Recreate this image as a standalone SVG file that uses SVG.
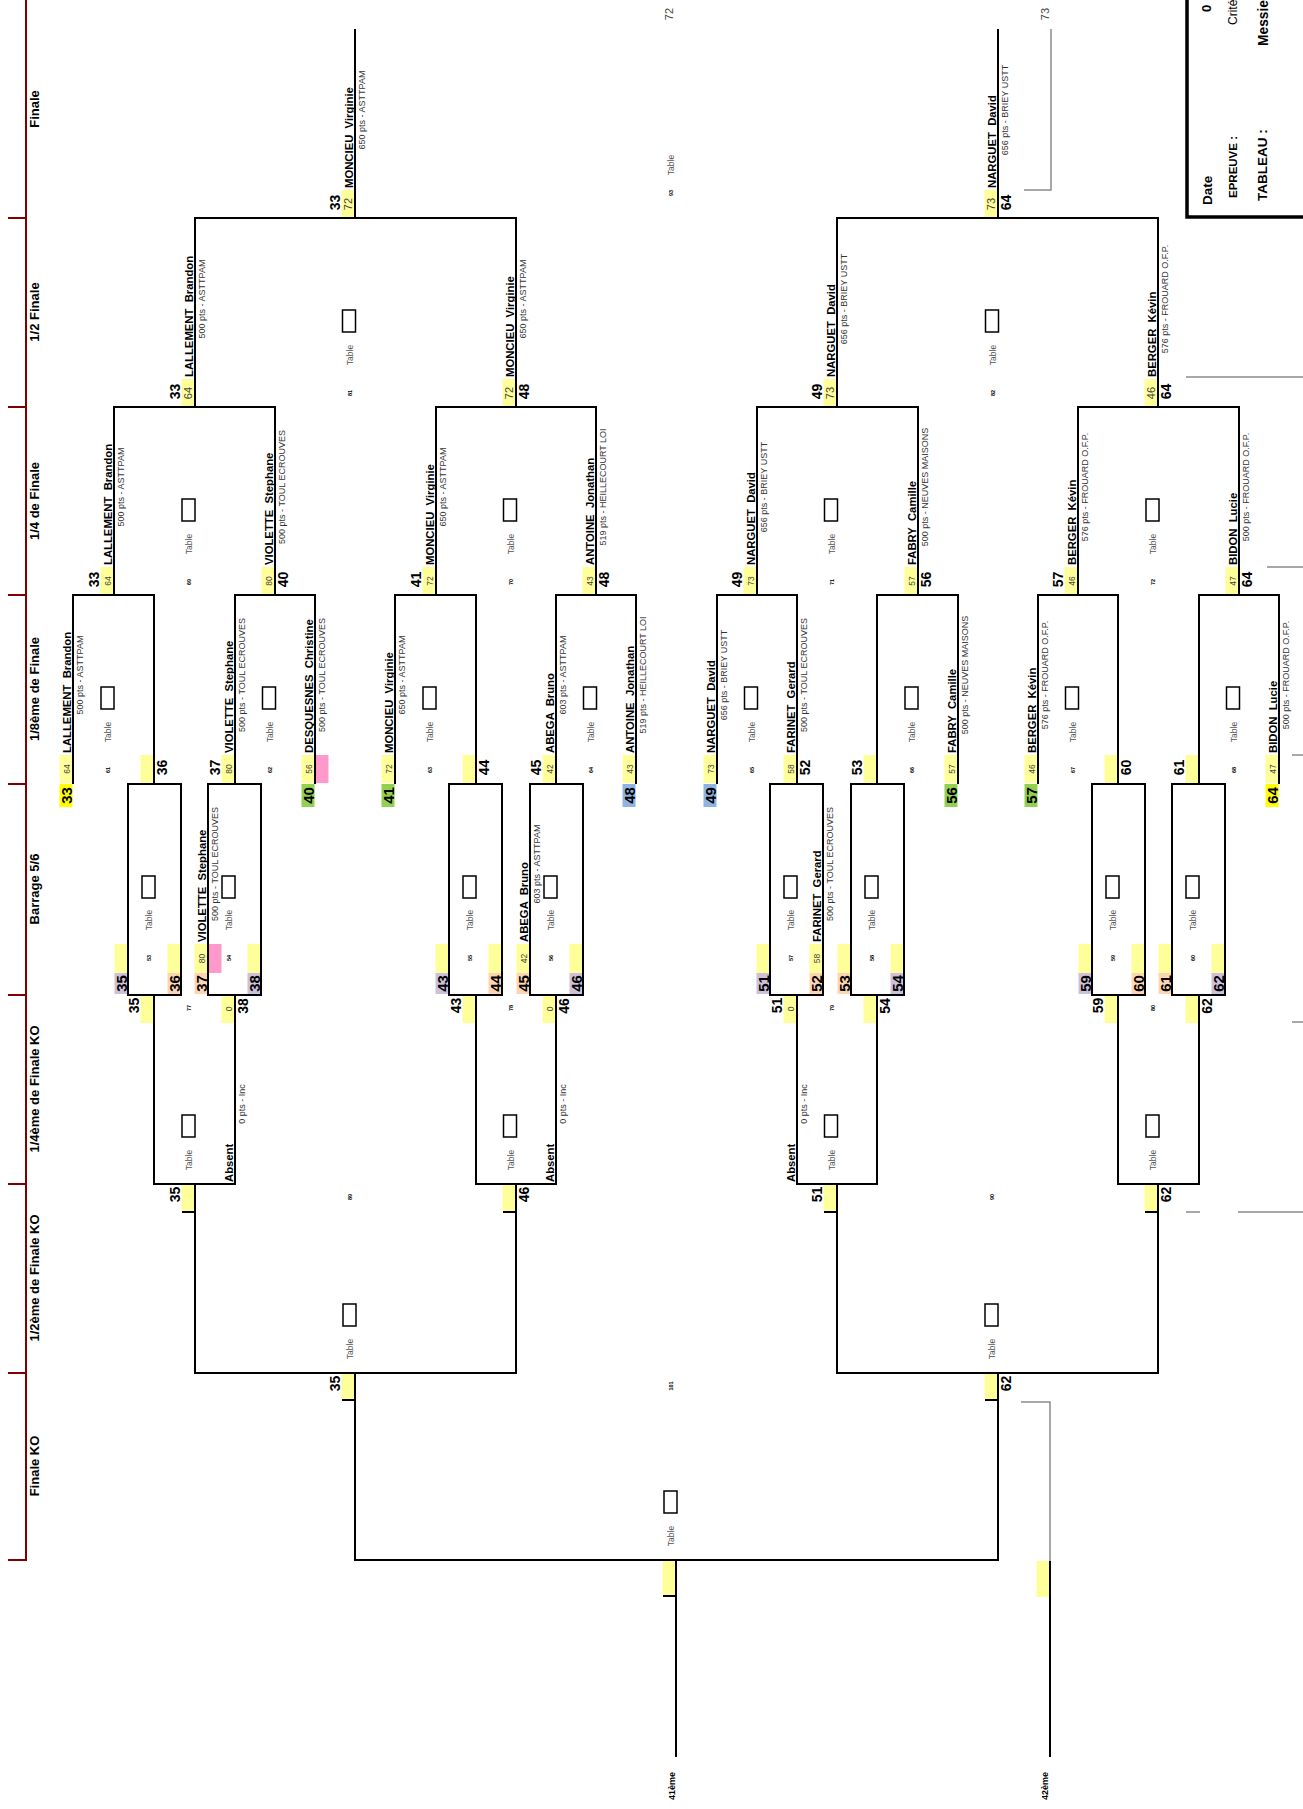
<svg xmlns="http://www.w3.org/2000/svg" width="1303" height="1809" viewBox="0 0 1303 1809">
<style>
text{font-family:"Liberation Sans",Arial,sans-serif;fill:#000}
.nm{font-size:11.3px;font-weight:bold;white-space:pre}
.pt{font-size:9px;fill:#333;text-anchor:middle}
.sd{font-size:8.5px;fill:#444;text-anchor:middle}
.sd2{font-size:11px;fill:#444;text-anchor:middle}
.bn{font-size:14px;font-weight:bold;text-anchor:middle}
.cn{font-size:15px;font-weight:bold;text-anchor:middle}
.tt{font-size:8.5px;fill:#555;text-anchor:middle}
.mn{font-size:5.5px;font-weight:bold;text-anchor:middle}
.rl{font-size:13px;font-weight:bold;text-anchor:middle}
.lb9{font-size:9px;font-weight:bold;text-anchor:middle}
.ln{fill:none;stroke:#000;stroke-width:2}
.gl{fill:none;stroke:#8c8c8c;stroke-width:1.5}
.tb{fill:#fff;stroke:#000;stroke-width:1.5}
.y{fill:#ffff99}.Y{fill:#ffff00}.g{fill:#92d050}.b{fill:#8db4e2}.lv{fill:#ccc0da}.pc{fill:#fcd5b4}.pk{fill:#ff99cc}
</style>
<rect width="1303" height="1809" fill="#fff"/>
<g id="axis" stroke="#800000" stroke-width="2" fill="none">
<path d="M26 0V1561"/>
<path d="M8 218H26M8 407H26M8 595H26M8 784H26M8 995H26M8 1184H26M8 1373H26M8 1560H26"/>
</g>
<g id="round-labels">
<text class="rl" transform="translate(39,109) rotate(-90)">Finale</text>
<text class="rl" transform="translate(39,312) rotate(-90)">1/2 Finale</text>
<text class="rl" transform="translate(39,501) rotate(-90)">1/4 de Finale</text>
<text class="rl" transform="translate(39,689) rotate(-90)">1/8ème de Finale</text>
<text class="rl" transform="translate(39,889) rotate(-90)">Barrage 5/6</text>
<text class="rl" transform="translate(39,1089) rotate(-90)">1/4ème de Finale KO</text>
<text class="rl" transform="translate(39,1278) rotate(-90)">1/2ème de Finale KO</text>
<text class="rl" transform="translate(39,1466) rotate(-90)">Finale KO</text>
</g>
<g id="header">
<rect x="1187" y="-10" width="130" height="227" fill="none" stroke="#000" stroke-width="3.5"/>
<text transform="translate(1212,205) rotate(-90)" style="font-size:13.5px;font-weight:bold">Date</text>
<text transform="translate(1237,198) rotate(-90)" style="font-size:11.5px;font-weight:bold">EPREUVE :</text>
<text transform="translate(1267,201) rotate(-90)" style="font-size:13.5px;font-weight:bold">TABLEAU :</text>
<text transform="translate(1211,12) rotate(-90)" style="font-size:13px;font-weight:bold">0</text>
<text transform="translate(1237,25) rotate(-90)" style="font-size:12px">Crité</text>
<text transform="translate(1268,46) rotate(-90)" style="font-size:13.8px;font-weight:bold">Messie</text>
</g>

<!-- matches (table boxes) -->
<g id="m61"><rect class="tb" x="101" y="687" width="13" height="22"/><text class="tt" transform="translate(111,732) rotate(-90)">Table</text><text class="mn" transform="translate(110,770) rotate(-90)">61</text></g>
<g id="m62"><rect class="tb" x="262.5" y="687" width="13" height="22"/><text class="tt" transform="translate(272.5,732) rotate(-90)">Table</text><text class="mn" transform="translate(271.5,770) rotate(-90)">62</text></g>
<g id="m63"><rect class="tb" x="423" y="687" width="13" height="22"/><text class="tt" transform="translate(433,732) rotate(-90)">Table</text><text class="mn" transform="translate(432,770) rotate(-90)">63</text></g>
<g id="m64"><rect class="tb" x="583.5" y="687" width="13" height="22"/><text class="tt" transform="translate(593.5,732) rotate(-90)">Table</text><text class="mn" transform="translate(592.5,770) rotate(-90)">64</text></g>
<g id="m65"><rect class="tb" x="744.5" y="687" width="13" height="22"/><text class="tt" transform="translate(754.5,732) rotate(-90)">Table</text><text class="mn" transform="translate(753.5,770) rotate(-90)">65</text></g>
<g id="m66"><rect class="tb" x="905" y="687" width="13" height="22"/><text class="tt" transform="translate(915,732) rotate(-90)">Table</text><text class="mn" transform="translate(914,770) rotate(-90)">66</text></g>
<g id="m67"><rect class="tb" x="1065.5" y="687" width="13" height="22"/><text class="tt" transform="translate(1075.5,732) rotate(-90)">Table</text><text class="mn" transform="translate(1074.5,770) rotate(-90)">67</text></g>
<g id="m68"><rect class="tb" x="1226.5" y="687" width="13" height="22"/><text class="tt" transform="translate(1236.5,732) rotate(-90)">Table</text><text class="mn" transform="translate(1235.5,770) rotate(-90)">68</text></g>
<g id="m69"><rect class="tb" x="182" y="499" width="13" height="22"/><text class="tt" transform="translate(192,544) rotate(-90)">Table</text><text class="mn" transform="translate(191,582) rotate(-90)">69</text></g>
<g id="m70"><rect class="tb" x="503.5" y="499" width="13" height="22"/><text class="tt" transform="translate(513.5,544) rotate(-90)">Table</text><text class="mn" transform="translate(512.5,582) rotate(-90)">70</text></g>
<g id="m71"><rect class="tb" x="824.5" y="499" width="13" height="22"/><text class="tt" transform="translate(834.5,544) rotate(-90)">Table</text><text class="mn" transform="translate(833.5,582) rotate(-90)">71</text></g>
<g id="m72"><rect class="tb" x="1146" y="499" width="13" height="22"/><text class="tt" transform="translate(1156,544) rotate(-90)">Table</text><text class="mn" transform="translate(1155,582) rotate(-90)">72</text></g>
<g id="m81"><rect class="tb" x="342.5" y="310" width="13" height="22"/><text class="tt" transform="translate(352.5,355) rotate(-90)">Table</text><text class="mn" transform="translate(351.5,393) rotate(-90)">81</text></g>
<g id="m82"><rect class="tb" x="985.5" y="310" width="13" height="22"/><text class="tt" transform="translate(995.5,355) rotate(-90)">Table</text><text class="mn" transform="translate(994.5,393) rotate(-90)">82</text></g>
<g id="m93"><text class="tt" transform="translate(674,165) rotate(-90)">Table</text><text class="mn" transform="translate(673,193) rotate(-90)">93</text><text transform="translate(673,14) rotate(-90)" style="font-size:11px;fill:#444;text-anchor:middle">72</text></g>
<g id="m53"><rect class="tb" x="142" y="876" width="13" height="22"/><text class="tt" transform="translate(152,920) rotate(-90)">Table</text><text class="mn" transform="translate(151,958) rotate(-90)">53</text></g>
<g id="m54"><rect class="tb" x="222" y="876" width="13" height="22"/><text class="tt" transform="translate(232,920) rotate(-90)">Table</text><text class="mn" transform="translate(231,958) rotate(-90)">54</text></g>
<g id="m55"><rect class="tb" x="463" y="876" width="13" height="22"/><text class="tt" transform="translate(473,920) rotate(-90)">Table</text><text class="mn" transform="translate(472,958) rotate(-90)">55</text></g>
<g id="m56"><rect class="tb" x="544" y="876" width="13" height="22"/><text class="tt" transform="translate(554,920) rotate(-90)">Table</text><text class="mn" transform="translate(553,958) rotate(-90)">56</text></g>
<g id="m57"><rect class="tb" x="784" y="876" width="13" height="22"/><text class="tt" transform="translate(794,920) rotate(-90)">Table</text><text class="mn" transform="translate(793,958) rotate(-90)">57</text></g>
<g id="m58"><rect class="tb" x="865" y="876" width="13" height="22"/><text class="tt" transform="translate(875,920) rotate(-90)">Table</text><text class="mn" transform="translate(874,958) rotate(-90)">58</text></g>
<g id="m59"><rect class="tb" x="1106" y="876" width="13" height="22"/><text class="tt" transform="translate(1116,920) rotate(-90)">Table</text><text class="mn" transform="translate(1115,958) rotate(-90)">59</text></g>
<g id="m60"><rect class="tb" x="1186" y="876" width="13" height="22"/><text class="tt" transform="translate(1196,920) rotate(-90)">Table</text><text class="mn" transform="translate(1195,958) rotate(-90)">60</text></g>
<g id="m77"><rect class="tb" x="182" y="1115" width="13" height="22"/><text class="tt" transform="translate(192,1160) rotate(-90)">Table</text><text class="mn" transform="translate(191,1008) rotate(-90)">77</text></g>
<g id="m78"><rect class="tb" x="503.5" y="1115" width="13" height="22"/><text class="tt" transform="translate(513.5,1160) rotate(-90)">Table</text><text class="mn" transform="translate(512.5,1008) rotate(-90)">78</text></g>
<g id="m79"><rect class="tb" x="824.5" y="1115" width="13" height="22"/><text class="tt" transform="translate(834.5,1160) rotate(-90)">Table</text><text class="mn" transform="translate(833.5,1008) rotate(-90)">79</text></g>
<g id="m80"><rect class="tb" x="1146" y="1115" width="13" height="22"/><text class="tt" transform="translate(1156,1160) rotate(-90)">Table</text><text class="mn" transform="translate(1155,1008) rotate(-90)">80</text></g>
<g id="m89"><rect class="tb" x="343" y="1304" width="13" height="22"/><text class="tt" transform="translate(353,1349) rotate(-90)">Table</text><text class="mn" transform="translate(352,1197) rotate(-90)">89</text></g>
<g id="m90"><rect class="tb" x="985" y="1304" width="13" height="22"/><text class="tt" transform="translate(995,1349) rotate(-90)">Table</text><text class="mn" transform="translate(994,1197) rotate(-90)">90</text></g>
<g id="m101"><rect class="tb" x="664" y="1491" width="13" height="22"/><text class="tt" transform="translate(674,1536) rotate(-90)">Table</text><text class="mn" transform="translate(673,1386) rotate(-90)">101</text></g>

<!-- players: 1/8 -->
<g id="p8-1"><rect class="y" x="59.5" y="755" width="13" height="28"/><text class="sd" transform="translate(69.5,769) rotate(-90)">64</text><text class="nm" xml:space="preserve" transform="translate(71,753) rotate(-90)">LALLEMENT  Brandon</text><text class="pt" transform="translate(83,675) rotate(-90)">500 pts - ASTTPAM</text><rect class="Y" x="59.5" y="784" width="13" height="23"/><text class="cn" transform="translate(71.5,795.5) rotate(-90)">33</text></g>
<g id="p8-2"><rect class="y" x="140.5" y="755" width="13" height="28"/><text class="bn" transform="translate(166.5,767.5) rotate(-90)">36</text></g>
<g id="p8-3"><rect class="y" x="221.5" y="755" width="13" height="28"/><text class="sd" transform="translate(231.5,769) rotate(-90)">80</text><text class="nm" xml:space="preserve" transform="translate(233,753) rotate(-90)">VIOLETTE  Stephane</text><text class="pt" transform="translate(245,675) rotate(-90)">500 pts - TOUL ECROUVES</text><text class="bn" transform="translate(219.5,767.5) rotate(-90)">37</text></g>
<g id="p8-4"><rect class="y" x="301.5" y="755" width="13" height="28"/><rect class="pk" x="315.5" y="755" width="13" height="28"/><text class="sd" transform="translate(311.5,769) rotate(-90)">56</text><text class="nm" xml:space="preserve" transform="translate(313,753) rotate(-90)">DESQUESNES  Christine</text><text class="pt" transform="translate(325,675) rotate(-90)">500 pts - TOUL ECROUVES</text><rect class="g" x="301.5" y="784" width="13" height="23"/><text class="cn" transform="translate(313.5,795.5) rotate(-90)">40</text></g>
<g id="p8-5"><rect class="y" x="381.5" y="755" width="13" height="28"/><text class="sd" transform="translate(391.5,769) rotate(-90)">72</text><text class="nm" xml:space="preserve" transform="translate(393,753) rotate(-90)">MONCIEU  Virginie</text><text class="pt" transform="translate(405,675) rotate(-90)">650 pts - ASTTPAM</text><rect class="g" x="381.5" y="784" width="13" height="23"/><text class="cn" transform="translate(393.5,795.5) rotate(-90)">41</text></g>
<g id="p8-6"><rect class="y" x="462.5" y="755" width="13" height="28"/><text class="bn" transform="translate(488.5,767.5) rotate(-90)">44</text></g>
<g id="p8-7"><rect class="y" x="542.5" y="755" width="13" height="28"/><text class="sd" transform="translate(552.5,769) rotate(-90)">42</text><text class="nm" xml:space="preserve" transform="translate(554,753) rotate(-90)">ABEGA  Bruno</text><text class="pt" transform="translate(566,675) rotate(-90)">603 pts - ASTTPAM</text><text class="bn" transform="translate(540.5,767.5) rotate(-90)">45</text></g>
<g id="p8-8"><rect class="y" x="622.5" y="755" width="13" height="28"/><text class="sd" transform="translate(632.5,769) rotate(-90)">43</text><text class="nm" xml:space="preserve" transform="translate(634,753) rotate(-90)">ANTOINE  Jonathan</text><text class="pt" transform="translate(646,675) rotate(-90)">519 pts - HEILLECOURT LOI</text><rect class="b" x="622.5" y="784" width="13" height="23"/><text class="cn" transform="translate(634.5,795.5) rotate(-90)">48</text></g>
<g id="p8-9"><rect class="y" x="703.5" y="755" width="13" height="28"/><text class="sd" transform="translate(713.5,769) rotate(-90)">73</text><text class="nm" xml:space="preserve" transform="translate(715,753) rotate(-90)">NARGUET  David</text><text class="pt" transform="translate(727,675) rotate(-90)">656 pts - BRIEY USTT</text><rect class="b" x="703.5" y="784" width="13" height="23"/><text class="cn" transform="translate(715.5,795.5) rotate(-90)">49</text></g>
<g id="p8-10"><rect class="y" x="783.5" y="755" width="13" height="28"/><text class="sd" transform="translate(793.5,769) rotate(-90)">58</text><text class="nm" xml:space="preserve" transform="translate(795,753) rotate(-90)">FARINET  Gerard</text><text class="pt" transform="translate(807,675) rotate(-90)">500 pts - TOUL ECROUVES</text><text class="bn" transform="translate(809.5,767.5) rotate(-90)">52</text></g>
<g id="p8-11"><rect class="y" x="863.5" y="755" width="13" height="28"/><text class="bn" transform="translate(861.5,767.5) rotate(-90)">53</text></g>
<g id="p8-12"><rect class="y" x="944.5" y="755" width="13" height="28"/><text class="sd" transform="translate(954.5,769) rotate(-90)">57</text><text class="nm" xml:space="preserve" transform="translate(956,753) rotate(-90)">FABRY  Camille</text><text class="pt" transform="translate(968,675) rotate(-90)">500 pts - NEUVES MAISONS</text><rect class="g" x="944.5" y="784" width="13" height="23"/><text class="cn" transform="translate(956.5,795.5) rotate(-90)">56</text></g>
<g id="p8-13"><rect class="y" x="1024.5" y="755" width="13" height="28"/><text class="sd" transform="translate(1034.5,769) rotate(-90)">46</text><text class="nm" xml:space="preserve" transform="translate(1036,753) rotate(-90)">BERGER  Kévin</text><text class="pt" transform="translate(1048,675) rotate(-90)">576 pts - FROUARD O.F.P.</text><rect class="g" x="1024.5" y="784" width="13" height="23"/><text class="cn" transform="translate(1036.5,795.5) rotate(-90)">57</text></g>
<g id="p8-14"><rect class="y" x="1104.5" y="755" width="13" height="28"/><text class="bn" transform="translate(1130.5,767.5) rotate(-90)">60</text></g>
<g id="p8-15"><rect class="y" x="1185.5" y="755" width="13" height="28"/><text class="bn" transform="translate(1183.5,767.5) rotate(-90)">61</text></g>
<g id="p8-16"><rect class="y" x="1265.5" y="755" width="13" height="28"/><text class="sd" transform="translate(1275.5,769) rotate(-90)">47</text><text class="nm" xml:space="preserve" transform="translate(1277,753) rotate(-90)">BIDON  Lucie</text><text class="pt" transform="translate(1289,675) rotate(-90)">500 pts - FROUARD O.F.P.</text><rect class="Y" x="1265.5" y="784" width="13" height="23"/><text class="cn" transform="translate(1277.5,795.5) rotate(-90)">64</text></g>

<!-- players: barrage -->
<g id="pb-1"><rect class="y" x="114.5" y="944" width="13" height="29"/><rect class="lv" x="114.5" y="973" width="13" height="21"/><text class="cn" transform="translate(126.5,983.5) rotate(-90)">35</text></g>
<g id="pb-2"><rect class="y" x="167.5" y="944" width="13" height="29"/><rect class="pc" x="167.5" y="973" width="13" height="21"/><text class="cn" transform="translate(179.5,983.5) rotate(-90)">36</text></g>
<g id="pb-3"><rect class="y" x="194.5" y="944" width="13" height="29"/><rect class="pk" x="208.5" y="944" width="13" height="29"/><text class="sd" transform="translate(204.5,958.5) rotate(-90)">80</text><rect class="pc" x="194.5" y="973" width="13" height="21"/><text class="cn" transform="translate(206.5,983.5) rotate(-90)">37</text><text class="nm" xml:space="preserve" transform="translate(206,942) rotate(-90)">VIOLETTE  Stephane</text><text class="pt" transform="translate(218,864) rotate(-90)">500 pts - TOUL ECROUVES</text></g>
<g id="pb-4"><rect class="y" x="247.5" y="944" width="13" height="29"/><rect class="lv" x="247.5" y="973" width="13" height="21"/><text class="cn" transform="translate(259.5,983.5) rotate(-90)">38</text></g>
<g id="pb-5"><rect class="y" x="435.5" y="944" width="13" height="29"/><rect class="lv" x="435.5" y="973" width="13" height="21"/><text class="cn" transform="translate(447.5,983.5) rotate(-90)">43</text></g>
<g id="pb-6"><rect class="y" x="488.5" y="944" width="13" height="29"/><rect class="pc" x="488.5" y="973" width="13" height="21"/><text class="cn" transform="translate(500.5,983.5) rotate(-90)">44</text></g>
<g id="pb-7"><rect class="y" x="516.5" y="944" width="13" height="29"/><text class="sd" transform="translate(526.5,958.5) rotate(-90)">42</text><rect class="pc" x="516.5" y="973" width="13" height="21"/><text class="cn" transform="translate(528.5,983.5) rotate(-90)">45</text><text class="nm" xml:space="preserve" transform="translate(528,942) rotate(-90)">ABEGA  Bruno</text><text class="pt" transform="translate(540,864) rotate(-90)">603 pts - ASTTPAM</text></g>
<g id="pb-8"><rect class="y" x="569.5" y="944" width="13" height="29"/><rect class="lv" x="569.5" y="973" width="13" height="21"/><text class="cn" transform="translate(581.5,983.5) rotate(-90)">46</text></g>
<g id="pb-9"><rect class="y" x="756.5" y="944" width="13" height="29"/><rect class="lv" x="756.5" y="973" width="13" height="21"/><text class="cn" transform="translate(768.5,983.5) rotate(-90)">51</text></g>
<g id="pb-10"><rect class="y" x="809.5" y="944" width="13" height="29"/><text class="sd" transform="translate(819.5,958.5) rotate(-90)">58</text><rect class="pc" x="809.5" y="973" width="13" height="21"/><text class="cn" transform="translate(821.5,983.5) rotate(-90)">52</text><text class="nm" xml:space="preserve" transform="translate(821,942) rotate(-90)">FARINET  Gerard</text><text class="pt" transform="translate(833,864) rotate(-90)">500 pts - TOUL ECROUVES</text></g>
<g id="pb-11"><rect class="y" x="837.5" y="944" width="13" height="29"/><rect class="pc" x="837.5" y="973" width="13" height="21"/><text class="cn" transform="translate(849.5,983.5) rotate(-90)">53</text></g>
<g id="pb-12"><rect class="y" x="890.5" y="944" width="13" height="29"/><rect class="lv" x="890.5" y="973" width="13" height="21"/><text class="cn" transform="translate(902.5,983.5) rotate(-90)">54</text></g>
<g id="pb-13"><rect class="y" x="1078.5" y="944" width="13" height="29"/><rect class="lv" x="1078.5" y="973" width="13" height="21"/><text class="cn" transform="translate(1090.5,983.5) rotate(-90)">59</text></g>
<g id="pb-14"><rect class="y" x="1131.5" y="944" width="13" height="29"/><rect class="pc" x="1131.5" y="973" width="13" height="21"/><text class="cn" transform="translate(1143.5,983.5) rotate(-90)">60</text></g>
<g id="pb-15"><rect class="y" x="1158.5" y="944" width="13" height="29"/><rect class="pc" x="1158.5" y="973" width="13" height="21"/><text class="cn" transform="translate(1170.5,983.5) rotate(-90)">61</text></g>
<g id="pb-16"><rect class="y" x="1211.5" y="944" width="13" height="29"/><rect class="lv" x="1211.5" y="973" width="13" height="21"/><text class="cn" transform="translate(1223.5,983.5) rotate(-90)">62</text></g>

<!-- players: 1/4 -->
<g id="p4-1"><rect class="y" x="100.5" y="567" width="13" height="28"/><text class="sd" transform="translate(110.5,581) rotate(-90)">64</text><text class="bn" transform="translate(98.5,579.5) rotate(-90)">33</text><text class="nm" xml:space="preserve" transform="translate(112,565) rotate(-90)">LALLEMENT  Brandon</text><text class="pt" transform="translate(124,487) rotate(-90)">500 pts - ASTTPAM</text></g>
<g id="p4-2"><rect class="y" x="261.5" y="567" width="13" height="28"/><text class="sd" transform="translate(271.5,581) rotate(-90)">80</text><text class="nm" xml:space="preserve" transform="translate(273,565) rotate(-90)">VIOLETTE  Stephane</text><text class="pt" transform="translate(285,487) rotate(-90)">500 pts - TOUL ECROUVES</text><text class="bn" transform="translate(287.5,579.5) rotate(-90)">40</text></g>
<g id="p4-3"><rect class="y" x="422.5" y="567" width="13" height="28"/><text class="sd" transform="translate(432.5,581) rotate(-90)">72</text><text class="bn" transform="translate(420.5,579.5) rotate(-90)">41</text><text class="nm" xml:space="preserve" transform="translate(434,565) rotate(-90)">MONCIEU  Virginie</text><text class="pt" transform="translate(446,487) rotate(-90)">650 pts - ASTTPAM</text></g>
<g id="p4-4"><rect class="y" x="582.5" y="567" width="13" height="28"/><text class="sd" transform="translate(592.5,581) rotate(-90)">43</text><text class="nm" xml:space="preserve" transform="translate(594,565) rotate(-90)">ANTOINE  Jonathan</text><text class="pt" transform="translate(606,487) rotate(-90)">519 pts - HEILLECOURT LOI</text><text class="bn" transform="translate(608.5,579.5) rotate(-90)">48</text></g>
<g id="p4-5"><rect class="y" x="743.5" y="567" width="13" height="28"/><text class="sd" transform="translate(753.5,581) rotate(-90)">73</text><text class="bn" transform="translate(741.5,579.5) rotate(-90)">49</text><text class="nm" xml:space="preserve" transform="translate(755,565) rotate(-90)">NARGUET  David</text><text class="pt" transform="translate(767,487) rotate(-90)">656 pts - BRIEY USTT</text></g>
<g id="p4-6"><rect class="y" x="904.5" y="567" width="13" height="28"/><text class="sd" transform="translate(914.5,581) rotate(-90)">57</text><text class="nm" xml:space="preserve" transform="translate(916,565) rotate(-90)">FABRY  Camille</text><text class="pt" transform="translate(928,487) rotate(-90)">500 pts - NEUVES MAISONS</text><text class="bn" transform="translate(930.5,579.5) rotate(-90)">56</text></g>
<g id="p4-7"><rect class="y" x="1064.5" y="567" width="13" height="28"/><text class="sd" transform="translate(1074.5,581) rotate(-90)">46</text><text class="bn" transform="translate(1062.5,579.5) rotate(-90)">57</text><text class="nm" xml:space="preserve" transform="translate(1076,565) rotate(-90)">BERGER  Kévin</text><text class="pt" transform="translate(1088,487) rotate(-90)">576 pts - FROUARD O.F.P.</text></g>
<g id="p4-8"><rect class="y" x="1225.5" y="567" width="13" height="28"/><text class="sd" transform="translate(1235.5,581) rotate(-90)">47</text><text class="nm" xml:space="preserve" transform="translate(1237,565) rotate(-90)">BIDON  Lucie</text><text class="pt" transform="translate(1249,487) rotate(-90)">500 pts - FROUARD O.F.P.</text><text class="bn" transform="translate(1251.5,579.5) rotate(-90)">64</text></g>

<!-- players: 1/2 -->
<g id="p2-1"><rect class="y" x="181.5" y="379" width="13" height="28"/><text class="sd2" transform="translate(191.5,393) rotate(-90)">64</text><text class="bn" transform="translate(179.5,391.5) rotate(-90)">33</text><text class="nm" xml:space="preserve" transform="translate(193,377) rotate(-90)">LALLEMENT  Brandon</text><text class="pt" transform="translate(205,299) rotate(-90)">500 pts - ASTTPAM</text></g>
<g id="p2-2"><rect class="y" x="502.5" y="379" width="13" height="28"/><text class="sd2" transform="translate(512.5,393) rotate(-90)">72</text><text class="nm" xml:space="preserve" transform="translate(514,377) rotate(-90)">MONCIEU  Virginie</text><text class="pt" transform="translate(526,299) rotate(-90)">650 pts - ASTTPAM</text><text class="bn" transform="translate(528.5,391.5) rotate(-90)">48</text></g>
<g id="p2-3"><rect class="y" x="823.5" y="379" width="13" height="28"/><text class="sd2" transform="translate(833.5,393) rotate(-90)">73</text><text class="bn" transform="translate(821.5,391.5) rotate(-90)">49</text><text class="nm" xml:space="preserve" transform="translate(835,377) rotate(-90)">NARGUET  David</text><text class="pt" transform="translate(847,299) rotate(-90)">656 pts - BRIEY USTT</text></g>
<g id="p2-4"><rect class="y" x="1144.5" y="379" width="13" height="28"/><text class="sd2" transform="translate(1154.5,393) rotate(-90)">46</text><text class="nm" xml:space="preserve" transform="translate(1156,377) rotate(-90)">BERGER  Kévin</text><text class="pt" transform="translate(1168,299) rotate(-90)">576 pts - FROUARD O.F.P.</text><text class="bn" transform="translate(1170.5,391.5) rotate(-90)">64</text></g>

<!-- players: finale -->
<g id="pf-1"><rect class="y" x="341.5" y="190" width="13" height="28"/><text class="sd2" transform="translate(351.5,204) rotate(-90)">72</text><text class="bn" transform="translate(339.5,202.5) rotate(-90)">33</text><text class="nm" xml:space="preserve" transform="translate(353,188) rotate(-90)">MONCIEU  Virginie</text><text class="pt" transform="translate(365,110) rotate(-90)">650 pts - ASTTPAM</text></g>
<g id="pf-2"><rect class="y" x="984.5" y="190" width="13" height="28"/><text class="sd2" transform="translate(994.5,204) rotate(-90)">73</text><text class="nm" xml:space="preserve" transform="translate(996,188) rotate(-90)">NARGUET  David</text><text class="pt" transform="translate(1008,110) rotate(-90)">656 pts - BRIEY USTT</text><text class="bn" transform="translate(1010.5,202.5) rotate(-90)">64</text><text transform="translate(1049,14) rotate(-90)" style="font-size:11px;fill:#444;text-anchor:middle">73</text></g>

<!-- players: 1/4 KO -->
<g id="pk4-1"><rect class="y" x="140.5" y="995" width="13" height="28"/><text class="bn" transform="translate(139,1005.5) rotate(-90)">35</text></g>
<g id="pk4-2"><rect class="y" x="221.5" y="995" width="13" height="28"/><text class="sd" transform="translate(231.5,1009) rotate(-90)">0</text><text class="bn" transform="translate(247.5,1006) rotate(-90)">38</text><text class="nm" transform="translate(233,1182) rotate(-90)">Absent</text><text class="pt" transform="translate(245,1104) rotate(-90)">0 pts - Inc</text></g>
<g id="pk4-3"><rect class="y" x="462.5" y="995" width="13" height="28"/><text class="bn" transform="translate(461,1005.5) rotate(-90)">43</text></g>
<g id="pk4-4"><rect class="y" x="542.5" y="995" width="13" height="28"/><text class="sd" transform="translate(552.5,1009) rotate(-90)">0</text><text class="bn" transform="translate(568.5,1006) rotate(-90)">46</text><text class="nm" transform="translate(554,1182) rotate(-90)">Absent</text><text class="pt" transform="translate(566,1104) rotate(-90)">0 pts - Inc</text></g>
<g id="pk4-5"><rect class="y" x="783.5" y="995" width="13" height="28"/><text class="sd" transform="translate(793.5,1009) rotate(-90)">0</text><text class="bn" transform="translate(782,1005.5) rotate(-90)">51</text><text class="nm" transform="translate(795,1182) rotate(-90)">Absent</text><text class="pt" transform="translate(807,1104) rotate(-90)">0 pts - Inc</text></g>
<g id="pk4-6"><rect class="y" x="863.5" y="995" width="13" height="28"/><text class="bn" transform="translate(889.5,1006) rotate(-90)">54</text></g>
<g id="pk4-7"><rect class="y" x="1104.5" y="995" width="13" height="28"/><text class="bn" transform="translate(1103,1005.5) rotate(-90)">59</text></g>
<g id="pk4-8"><rect class="y" x="1185.5" y="995" width="13" height="28"/><text class="bn" transform="translate(1211.5,1006) rotate(-90)">62</text></g>

<!-- players: 1/2 KO, finale KO, results -->
<g id="pk2-1"><rect class="y" x="181.5" y="1184" width="13" height="28"/><text class="bn" transform="translate(180,1194.5) rotate(-90)">35</text></g>
<g id="pk2-2"><rect class="y" x="502.5" y="1184" width="13" height="28"/><text class="bn" transform="translate(528.5,1194.5) rotate(-90)">46</text></g>
<g id="pk2-3"><rect class="y" x="823.5" y="1184" width="13" height="28"/><text class="bn" transform="translate(822,1194.5) rotate(-90)">51</text></g>
<g id="pk2-4"><rect class="y" x="1144.5" y="1184" width="13" height="28"/><text class="bn" transform="translate(1170.5,1194.5) rotate(-90)">62</text></g>
<g id="pkf-1"><rect class="y" x="341.5" y="1373" width="13" height="27"/><text class="bn" transform="translate(340,1383.5) rotate(-90)">35</text></g>
<g id="pkf-2"><rect class="y" x="984.5" y="1373" width="13" height="27"/><text class="bn" transform="translate(1010.5,1383.5) rotate(-90)">62</text></g>
<g id="res-41"><rect class="y" x="662.5" y="1560" width="13" height="36"/><text class="lb9" transform="translate(675,1786) rotate(-90)">41ème</text></g>
<g id="res-42"><rect class="y" x="1036.5" y="1561" width="13" height="36"/><text class="lb9" transform="translate(1048,1786) rotate(-90)">42ème</text></g>

<g id="connectors" class="ln">
<path d="M73 784V595H154V784M235 784V595H315V784M395 784V595H476V784M556 784V595H636V784M717 784V595H797V784M877 784V595H958V784M1038 784V595H1118V784M1199 784V595H1279V784"/>
<path d="M114 595V407H275V595M436 595V407H596V595M757 595V407H918V595M1078 595V407H1239V595"/>
<path d="M195 407V218H516V407M837 407V218H1158V407"/>
<path d="M355 218V29M998 218V29"/>
<rect x="128" y="784" width="53" height="211"/>
<rect x="208" y="784" width="53" height="211"/>
<rect x="449" y="784" width="53" height="211"/>
<rect x="530" y="784" width="53" height="211"/>
<rect x="770" y="784" width="53" height="211"/>
<rect x="851" y="784" width="53" height="211"/>
<rect x="1092" y="784" width="53" height="211"/>
<rect x="1172" y="784" width="53" height="211"/>
<path d="M154 995V1184H235V995M476 995V1184H556V995M797 995V1184H877V995M1118 995V1184H1199V995"/>
<path d="M195 1184V1373H516V1184M837 1184V1373H1158V1184"/>
<path d="M355 1373V1560H998V1373"/>
<path d="M676 1560V1757M1050 1561V1757"/>
<path d="M182 1212H195M503 1212H516M824 1212H837M1145 1212H1158M342 1400H355M985 1400H998M663 1596H676"/>
</g>
<g id="grey-connectors" class="gl">
<path d="M1024 190H1051V29"/>
<path d="M1021 1402H1050V1561"/>
<path d="M1186 377H1303M1267 567H1303M1292 755H1303M1292 1022H1303M1186 1212H1200M1238 1212H1303"/>
</g>
</svg>
